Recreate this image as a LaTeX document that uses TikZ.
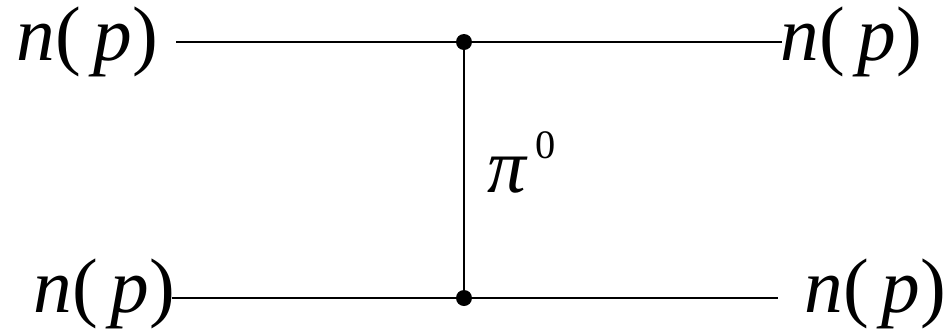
\documentclass[tikz,border=0pt]{standalone}
\usepackage{fontspec}
\setmainfont{LiberationSerif}[Extension=.ttf, UprightFont=*-Regular, ItalicFont=*-Italic]
\usetikzlibrary{positioning}
\tikzset{
  prop/.style={line width=1.3pt, color=black},
  vertex/.style={circle, fill=black, inner sep=0pt, minimum size=0.32cm},
  partlbl/.style={inner sep=0pt, anchor=base west, font=\fontsize{44}{50}\selectfont},
  mesonlbl/.style={inner sep=0pt, anchor=base west, font=\fontsize{44}{50}\selectfont},
}
\newcommand{\nuc}{\textit{n}(\,\textit{p})}
\begin{document}
\begin{tikzpicture}[x=0.02cm, y=-0.02cm]
\useasboundingbox (0,0) rectangle (948,329);
\def\yT{42}\def\yB{298}\def\xV{464}
% in / out nucleons
\node[partlbl] (inT) at (16,60) {\nuc};
\node[partlbl] (outT) at (780,60) {\nuc};
\node[partlbl] (inB) at (33,312) {\nuc};
\node[partlbl] (outB) at (804,312) {\nuc};
\coordinate (tl) at (176,\yT);
\coordinate (tr) at (782,\yT);
\coordinate (bl) at (172,\yB);
\coordinate (br) at (778,\yB);
% vertices
\node[vertex] (vT) at (\xV,\yT) {};
\node[vertex] (vB) at (\xV,\yB) {};
\draw[prop] (tl) -- (vT.center) -- (tr);
\draw[prop] (bl) -- (vB.center) -- (br);
\draw[prop] (vT.center) -- (vB.center);
\node[mesonlbl] (pi) at (487,192) {\textit{π}\hspace{0.1em}\raisebox{19pt}{\fontsize{23}{27}\selectfont 0}};
\end{tikzpicture}
\end{document}
